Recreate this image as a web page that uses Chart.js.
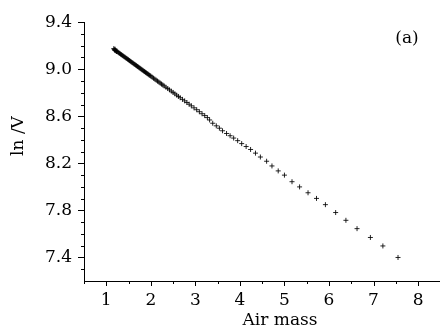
<!DOCTYPE html>
<html>
<head>
<meta charset="utf-8">
<script src="https://cdn.jsdelivr.net/npm/chart.js@4.4.0/dist/chart.umd.min.js"></script>
<style>
    html, body { margin: 0; padding: 0; background: #fff; }
    canvas { display: block; }
</style>
</head>
<body>
<canvas id="langley" width="444" height="331"></canvas>
<script>
"use strict";

/* air mass (x) and ln V (y) */
var airMass = [
    1.17, 1.18, 1.19, 1.20, 1.21, 1.22, 1.23, 1.24, 1.26, 1.28, 1.30, 1.32, 1.34, 1.36, 1.38,
    1.40, 1.42, 1.44, 1.46, 1.48, 1.50, 1.52, 1.54, 1.56, 1.58, 1.60, 1.62, 1.64, 1.66,
    1.68, 1.70, 1.72, 1.74, 1.76, 1.78, 1.80, 1.82, 1.84, 1.86, 1.88, 1.90, 1.92, 1.94,
    1.96, 1.98, 2.00, 2.03, 2.06, 2.09, 2.12, 2.15, 2.18, 2.21, 2.24, 2.27, 2.30, 2.34,
    2.38, 2.42, 2.46, 2.50, 2.54, 2.58, 2.62, 2.66, 2.71, 2.76, 2.81, 2.86, 2.91, 2.97,
    3.03, 3.09, 3.15, 3.21, 3.27, 3.32, 3.39, 3.47, 3.54, 3.61, 3.70, 3.78, 3.86, 3.95,
    4.04, 4.14, 4.24, 4.35, 4.46, 4.60, 4.72, 4.86, 5.00, 5.17, 5.34, 5.53, 5.72, 5.92,
    6.15, 6.38, 6.63, 6.93, 7.21, 7.55
];
var lnV = [
    9.176, 9.168, 9.160, 9.170, 9.158, 9.157, 9.151, 9.152, 9.146, 9.140, 9.135, 9.129, 9.124, 9.118, 9.113,
    9.107, 9.102, 9.096, 9.091, 9.085, 9.080, 9.074, 9.068, 9.063, 9.057, 9.052, 9.046, 9.041, 9.035,
    9.030, 9.024, 9.019, 9.013, 9.008, 9.002, 8.996, 8.991, 8.985, 8.980, 8.974, 8.969, 8.963, 8.958,
    8.952, 8.947, 8.941, 8.933, 8.924, 8.916, 8.908, 8.899, 8.891, 8.883, 8.874, 8.866, 8.858, 8.847,
    8.836, 8.825, 8.814, 8.803, 8.791, 8.780, 8.769, 8.758, 8.744, 8.731, 8.717, 8.703, 8.689, 8.672,
    8.656, 8.639, 8.622, 8.606, 8.589, 8.569, 8.541, 8.519, 8.499, 8.477, 8.454, 8.435, 8.415, 8.393,
    8.368, 8.343, 8.318, 8.287, 8.254, 8.218, 8.178, 8.136, 8.100, 8.044, 8.000, 7.950, 7.902, 7.849,
    7.782, 7.716, 7.645, 7.570, 7.498, 7.400
];

/* tick values */
var xMajor = [1, 2, 3, 4, 5, 6, 7, 8];
var xMinor = [0.5, 1.5, 2.5, 3.5, 4.5, 5.5, 6.5, 7.5];
var yMajor = [7.4, 7.8, 8.2, 8.6, 9.0, 9.4];
var yMinor = [7.3, 7.5, 7.6, 7.7, 7.9, 8.0, 8.1, 8.3, 8.4, 8.5, 8.7, 8.8, 8.9, 9.1, 9.2, 9.3];

var FONT = '"DejaVu Serif", "Liberation Serif", serif';

/* ticks, axis titles and panel mark drawn on top */
var axisDecor = {
    id: 'axisDecor',
    afterDraw: function (chart) {
        var ctx = chart.ctx;
        var xs = chart.scales.x;
        var ys = chart.scales.y;
        var area = chart.chartArea;
        ctx.save();
        ctx.strokeStyle = '#000';
        ctx.lineWidth = 1;
        ctx.beginPath();
        xMajor.forEach(function (v) {
            var px = Math.round(xs.getPixelForValue(v)) + 0.5;
            ctx.moveTo(px, area.bottom);
            ctx.lineTo(px, area.bottom + 5);
        });
        xMinor.forEach(function (v) {
            var px = Math.round(xs.getPixelForValue(v)) + 0.5;
            ctx.moveTo(px, area.bottom);
            ctx.lineTo(px, area.bottom + 3);
        });
        yMajor.forEach(function (v) {
            var py = Math.round(ys.getPixelForValue(v)) + 0.5;
            ctx.moveTo(area.left, py);
            ctx.lineTo(area.left - 6, py);
        });
        yMinor.forEach(function (v) {
            var py = Math.round(ys.getPixelForValue(v)) + 0.5;
            ctx.moveTo(area.left, py);
            ctx.lineTo(area.left - 3, py);
        });
        ctx.stroke();

        ctx.fillStyle = '#000';
        ctx.font = '17px ' + FONT;
        ctx.textAlign = 'center';
        ctx.textBaseline = 'middle';
        ctx.fillText('Air mass', 280, 321);
        ctx.fillText('(a)', 407, 39);

        ctx.translate(19, 136);
        ctx.rotate(-Math.PI / 2);
        ctx.fillText('ln /V', 0, 0);
        ctx.restore();
    }
};

var points = airMass.map(function (m, i) {
    return { x: m, y: lnV[i] };
});

var langleyChart = new Chart(document.getElementById('langley').getContext('2d'), {
    type: 'scatter',
    data: {
        datasets: [{
            label: 'ln V',
            data: points,
            pointStyle: 'cross',
            radius: 2.5,
            borderColor: 'rgba(0, 0, 0, 0.85)',
            borderWidth: 1,
        }]
    },
    options: {
        responsive: false,
        animation: false,
        layout: {
            padding: { top: 18, right: 1, left: 0, bottom: 0 }
        },
        plugins: {
            legend: { display: false },
            tooltip: { enabled: false },
        },
        scales: {
            x: {
                type: 'linear',
                min: 0.5,
                max: 8.47,
                afterBuildTicks: function (scale) {
                    scale.ticks = xMajor.map(function (v) { return { value: v }; });
                },
                afterFit: function (scale) {
                    scale.height = 50;
                },
                grid: { display: false, drawTicks: false },
                border: { display: true, color: '#000', width: 1 },
                ticks: {
                    color: '#000',
                    padding: 9,
                    maxRotation: 0,
                    font: { family: FONT, size: 17 },
                }
            },
            y: {
                type: 'linear',
                min: 7.2,
                max: 9.4,
                afterBuildTicks: function (scale) {
                    scale.ticks = yMajor.map(function (v) { return { value: v }; });
                },
                afterFit: function (scale) {
                    scale.width = 84;
                },
                grid: { display: false, drawTicks: false },
                border: { display: true, color: '#000', width: 1 },
                ticks: {
                    color: '#000',
                    padding: 12,
                    font: { family: FONT, size: 17 },
                    callback: function (value) { return value.toFixed(1); }
                }
            }
        }
    },
    plugins: [axisDecor]
});
</script>
</body>
</html>
